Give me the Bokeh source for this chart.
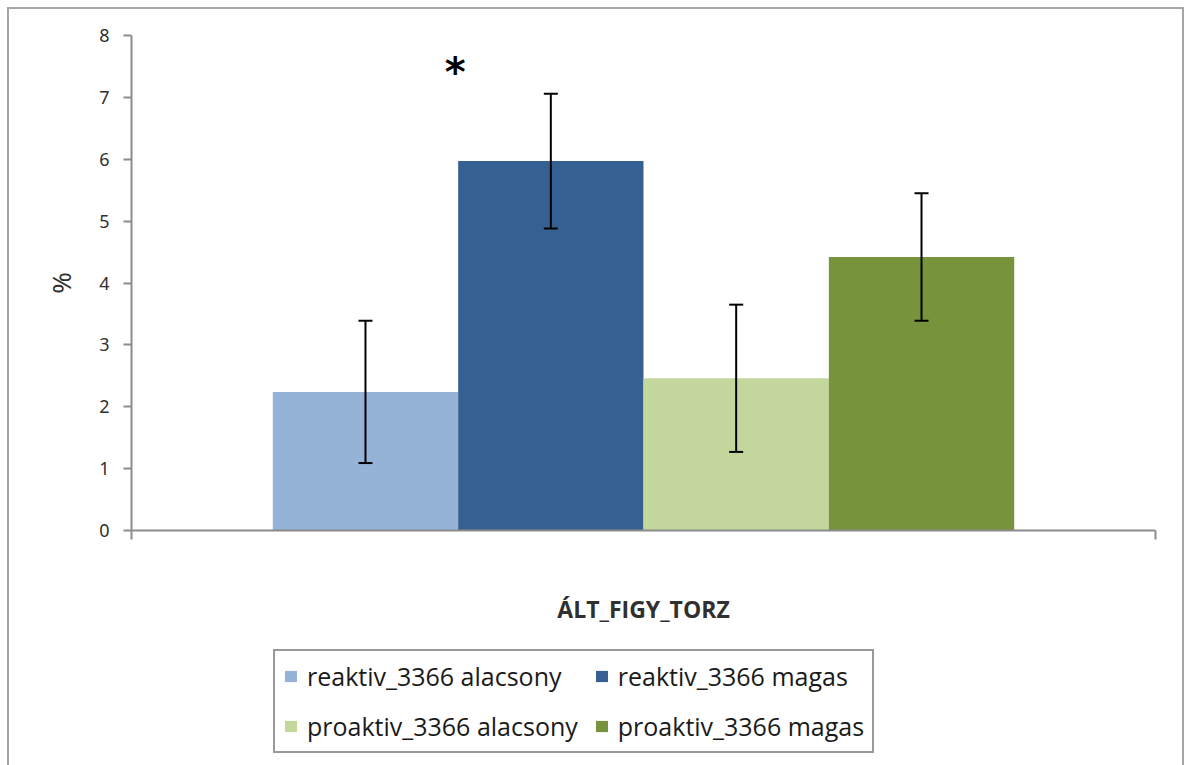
from bokeh.plotting import figure
from bokeh.layouts import column
from bokeh.models import (Range1d, LinearAxis, FixedTicker, Whisker, TeeHead,
                          ColumnDataSource, Legend, LegendItem)
from bokeh.core.properties import value
from bokeh.embed import file_html
from bokeh.resources import INLINE

category = "ÁLT_FIGY_TORZ"
series = ["reaktiv_3366 alacsony", "reaktiv_3366 magas",
          "proaktiv_3366 alacsony", "proaktiv_3366 magas"]
means = [2.24, 5.97, 2.46, 4.42]
errors = [1.15, 1.09, 1.19, 1.03]
colors = ["#95b3d7", "#376092", "#c3d69b", "#77933c"]
y_ticks = [0, 1, 2, 3, 4, 5, 6, 7, 8]
star_value = 7.5

bar_w = 0.181
offsets = [(i - 1.5) * bar_w for i in range(4)]
xs = [0.5 + o for o in offsets]

W = 1173
p = figure(width=W, height=621, output_backend="svg", toolbar_location=None,
           x_range=Range1d(0, 1), y_range=Range1d(0, 8),
           min_border_left=122, min_border_right=27, min_border_top=26,
           min_border_bottom=100, x_axis_type=None, y_axis_type=None)
p.grid.visible = False
p.outline_line_color = None

src = ColumnDataSource(dict(x=xs, top=means, color=colors, name=series,
                            upper=[m + e for m, e in zip(means, errors)],
                            lower=[m - e for m, e in zip(means, errors)]))

for i in range(4):
    p.vbar(x=xs[i], top=means[i], width=bar_w, bottom=0,
           fill_color=colors[i], line_color=None)

w = Whisker(source=src, base="x", upper="upper", lower="lower",
            line_color="black", line_width=2, level="overlay",
            upper_head=TeeHead(size=14, line_color="black", line_width=2),
            lower_head=TeeHead(size=14, line_color="black", line_width=2))
p.add_layout(w)

p.text(x=[0.5 - bar_w - 0.003], y=[star_value], text=["*"],
       text_font=value("DejaVu Sans"), text_font_size="40px",
       text_font_style="bold", text_align="center", text_baseline="middle",
       text_color="black", y_offset=6)

yax = LinearAxis(ticker=FixedTicker(ticks=y_ticks), axis_label="%",
                 axis_line_color="#8c8c8c", axis_line_width=2,
                 major_tick_line_color="#8c8c8c", major_tick_line_width=2,
                 major_tick_out=8, major_tick_in=0, minor_tick_line_color=None,
                 major_label_text_font="Noto Sans",
                 major_label_text_font_size="18px",
                 major_label_text_color="#303030", major_label_standoff=14,
                 axis_label_text_font="Noto Sans", axis_label_text_font_size="26px",
                 axis_label_text_font_style="normal", axis_label_text_color="#303030",
                 axis_label_standoff=17)
p.add_layout(yax, "left")

xax = LinearAxis(ticker=FixedTicker(ticks=[0, 1]), axis_label=category,
                 axis_line_color="#8c8c8c", axis_line_width=2,
                 major_tick_line_color="#8c8c8c", major_tick_line_width=2,
                 major_tick_out=9, major_tick_in=0, minor_tick_line_color=None,
                 major_label_text_font_size="0px", major_label_text_alpha=0,
                 axis_label_text_font="Open Sans", axis_label_text_font_size="23px",
                 axis_label_text_font_style="bold", axis_label_text_color="#303030",
                 axis_label_standoff=53)
p.add_layout(xax, "below")

# legend panel
q = figure(width=W, height=135, output_backend="svg", toolbar_location=None,
           x_range=Range1d(0, 1), y_range=Range1d(0, 1),
           min_border_left=122, min_border_right=27, min_border_top=0,
           min_border_bottom=0, x_axis_type=None, y_axis_type=None)
q.grid.visible = False
q.outline_line_color = None
# zero-height proxies: only their legend swatches are seen
legend_renderers = [q.vbar(x=[0.5], top=[0], width=bar_w, bottom=0,
                           fill_color=colors[i], line_color=None)
                    for i in range(4)]
order = [0, 2, 1, 3]
items = [LegendItem(label=series[i], renderers=[legend_renderers[i]]) for i in order]
legend = Legend(items=items, ncols=2, location=(142, 12),
                border_line_color="#333333", border_line_width=2,
                label_text_font="Open Sans", label_text_font_size="25px",
                label_text_color="#1a1a1a",
                glyph_width=15, glyph_height=14, label_standoff=9,
                label_height=29, spacing=16, padding=8, margin=0,
                background_fill_alpha=1)
q.add_layout(legend, "center")

layout = column(p, q, spacing=0)
layout.styles = {"border-left": "2px solid #a6a6a6", "border-right": "2px solid #a6a6a6",
                 "border-top": "2px solid #a6a6a6",
                 "margin-left": "7px", "margin-top": "7px"}

open("out.html", "w").write(file_html(layout, INLINE))
